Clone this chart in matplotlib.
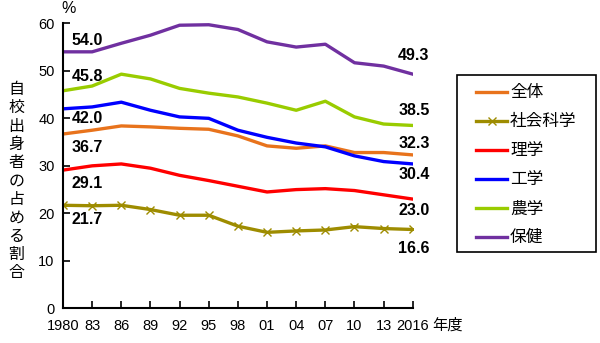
import matplotlib.pyplot as plt
from matplotlib.patches import Rectangle

plt.rcParams['font.family'] = ['Liberation Sans', 'Noto Sans CJK JP', 'DejaVu Sans']

# data
years = ["1980", "83", "86", "89", "92", "95", "98", "01", "04", "07", "10", "13", "2016"]
zentai = [36.7, 37.5, 38.4, 38.2, 37.9, 37.7, 36.3, 34.2, 33.7, 34.2, 32.8, 32.8, 32.3]
shakai = [21.7, 21.6, 21.7, 20.8, 19.6, 19.6, 17.3, 16.0, 16.3, 16.5, 17.2, 16.8, 16.6]
rigaku = [29.1, 30.0, 30.4, 29.5, 28.0, 26.9, 25.7, 24.5, 25.0, 25.2, 24.8, 23.9, 23.0]
kogaku = [42.0, 42.4, 43.4, 41.7, 40.3, 40.0, 37.5, 36.0, 34.8, 34.0, 32.1, 30.9, 30.4]
nogaku = [45.8, 46.8, 49.3, 48.3, 46.3, 45.3, 44.5, 43.2, 41.7, 43.6, 40.3, 38.8, 38.5]
hoken = [54.0, 54.0, 55.8, 57.5, 59.6, 59.7, 58.7, 56.1, 55.0, 55.6, 51.7, 51.0, 49.3]

names = ["全体", "社会科学", "理学", "工学", "農学", "保健"]
series = [zentai, shakai, rigaku, kogaku, nogaku, hoken]
colors = ["#E8731C", "#9E8C00", "#FF0000", "#0000FF", "#99CC00", "#7030A0"]

# label offsets (start, end)
left_off = [-2.8, -3.0, -2.8, -2.0, 3.1, 2.3]
right_off = [2.3, -4.0, -2.5, -2.3, 3.2, 4.0]

fig = plt.figure(figsize=(6, 3.43), dpi=100)
ax = fig.add_axes([0.105, 0.101, 0.583, 0.831])

x = range(len(years))
for name, vals, c in zip(names, series, colors):
    if name == "社会科学":
        ax.plot(x, vals, color=c, lw=2.4, marker='x', ms=6, mew=1, label=name)
    else:
        ax.plot(x, vals, color=c, lw=2.4, label=name)

# end labels
for vals, lo, ro in zip(series, left_off, right_off):
    ax.text(0.3, vals[0] + lo, f"{vals[0]:.1f}", fontsize=11.5, fontweight='bold',
            ha='left', va='center')
    ax.text(11.5, vals[-1] + ro, f"{vals[-1]:.1f}", fontsize=11.5, fontweight='bold',
            ha='left', va='center')

ax.set_xlim(0, 12)
ax.set_ylim(0, 60)
ax.set_xticks(list(x))
ax.set_xticklabels(years)
ax.set_yticks(range(0, 61, 10))
ax.tick_params(direction='in', length=5, width=1.2, labelsize=10.5, pad=8)
ax.tick_params(axis='y', pad=6)
for s in ['top', 'right']:
    ax.spines[s].set_visible(False)
for s in ['left', 'bottom']:
    ax.spines[s].set_linewidth(1.5)

ax.text(-0.05, 61.5, "%", fontsize=11.5, ha='left', va='bottom')
fig.text(0.72, 0.052, "年度", fontsize=11, ha='left', va='center',
         family=['Noto Sans CJK JP'])
fig.text(0.027, 0.472, "\n".join("自校出身者の占める割合"), fontsize=11.5,
         ha='center', va='center', linespacing=1.1, family=['Noto Sans CJK JP'])

# legend box drawn separately, entries without frame
fig.patches.append(Rectangle((0.762, 0.265), 0.232, 0.516, transform=fig.transFigure,
                             fill=False, edgecolor='black', lw=1.2))
fig.legend(loc='upper left', bbox_to_anchor=(0.793, 0.754), frameon=False,
           handlelength=1.9, handletextpad=0.15, labelspacing=0.72, borderpad=0,
           borderaxespad=0, prop={'family': 'Noto Sans CJK JP', 'size': 12})

fig.savefig("out.png", dpi=100)
